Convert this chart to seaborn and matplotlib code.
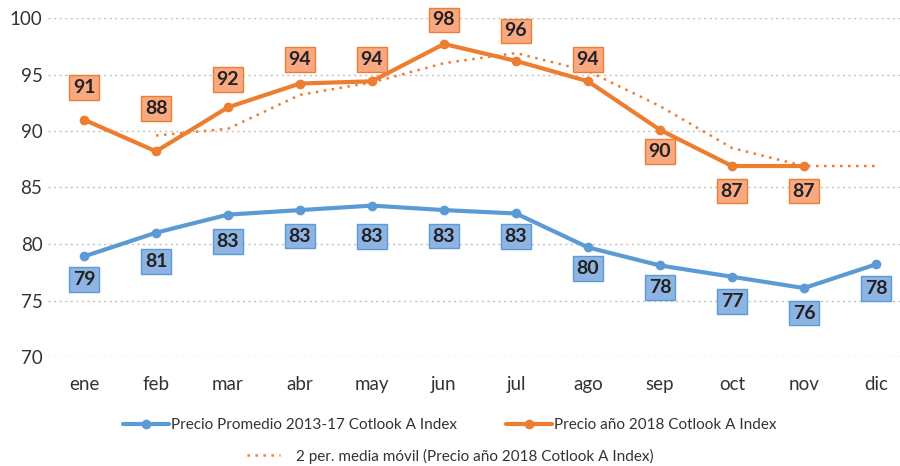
import numpy as np
import pandas as pd
import matplotlib
matplotlib.use("Agg")
import matplotlib.pyplot as plt
import seaborn as sns
from matplotlib.lines import Line2D

# ---- data ----
months = ["ene", "feb", "mar", "abr", "may", "jun", "jul", "ago", "sep", "oct", "nov", "dic"]
avg_2013_17 = [78.9, 81.0, 82.6, 83.0, 83.4, 83.0, 82.7, 79.7, 78.1, 77.1, 76.1, 78.2]
price_2018 = [91.0, 88.2, 92.1, 94.2, 94.4, 97.7, 96.2, 94.4, 90.1, 86.9, 86.9, np.nan]
moving_avg = [np.nan, 89.6, 90.2, 93.2, 94.3, 96.0, 96.9, 95.3, 92.2, 88.5, 86.9, 86.9]
yticks = [70, 75, 80, 85, 90, 95, 100]

name_blue = "Precio Promedio 2013-17 Cotlook A Index"
name_orange = "Precio año 2018 Cotlook A Index"
name_ma = "2 per. media móvil (Precio año 2018 Cotlook A Index)"

# ---- layout / style ----
BLUE = "#5B9BD5"
ORANGE = "#ED7D31"
BLUE_BOX = "#8EB4E3"
ORANGE_BOX = "#F8A982"
blue_label_dy_px = [23, 29, 27, 26, 31, 26, 23, 21, 22, 25, 25, 24]
orange_label_dy_px = [-32, -43, -28, -24, -22, -24, -30, -22, 22, 25, 25, 0]

sns.set_theme(style="white")
plt.rcParams['font.family'] = ['Lato', 'DejaVu Sans']

pos = list(range(len(months)))
df = pd.DataFrame({"pos": pos, "blue": avg_2013_17, "orange": price_2018, "ma": moving_avg})

fig = plt.figure(figsize=(9.0, 4.66), dpi=100)
ax = fig.add_axes([48/900, 1 - 357/466, 864/900, 339/466])

for y in yticks:
    ax.axhline(y, color="#BFBFBF", lw=1.0, ls=(0, (1.5, 2.5)), zorder=0)

sns.lineplot(data=df.dropna(subset=["ma"]), x="pos", y="ma", ax=ax, color=ORANGE,
             lw=1.8, ls=(0, (1, 2.2)), sort=False, zorder=2)
sns.lineplot(data=df, x="pos", y="blue", ax=ax, color=BLUE, lw=3, marker="o",
             markersize=7, markeredgewidth=0, sort=False, zorder=3)
sns.lineplot(data=df.dropna(subset=["orange"]), x="pos", y="orange", ax=ax, color=ORANGE,
             lw=3, marker="o", markersize=7, markeredgewidth=0, sort=False, zorder=3)

ax.set_ylim(70, 100)
ax.set_xlim(-0.5, 11.5)
ax.set_yticks(yticks)
ax.set_xticks(pos)
ax.set_xticklabels(months)

px2pt = 72 / 100
for i, v in enumerate(avg_2013_17):
    ax.annotate(f"{v:.0f}", (i, v), xytext=(0, -blue_label_dy_px[i] * px2pt),
                textcoords="offset points",
                ha="center", va="center", fontsize=14, fontweight="bold", color="#222222",
                bbox=dict(boxstyle="square,pad=0.2", fc=BLUE_BOX, ec=BLUE, lw=1),
                zorder=5, annotation_clip=False)
for i, v in enumerate(price_2018):
    if np.isnan(v):
        continue
    ax.annotate(f"{v:.0f}", (i, v), xytext=(0, -orange_label_dy_px[i] * px2pt),
                textcoords="offset points",
                ha="center", va="center", fontsize=14, fontweight="bold", color="#222222",
                bbox=dict(boxstyle="square,pad=0.2", fc=ORANGE_BOX, ec=ORANGE, lw=1),
                zorder=5, annotation_clip=False)

ax.set_xlabel("")
ax.set_ylabel("")
for s in ax.spines.values():
    s.set_visible(False)
ax.tick_params(axis="both", length=0, labelsize=13.5, colors="#333333")
ax.tick_params(axis="x", pad=14)
ax.tick_params(axis="y", pad=4)

h1 = Line2D([], [], color=BLUE, lw=3, marker="o", markersize=7, markeredgewidth=0)
h2 = Line2D([], [], color=ORANGE, lw=3, marker="o", markersize=7, markeredgewidth=0)
h3 = Line2D([], [], color=ORANGE, lw=1.8, ls=(0, (1, 2.2)))
leg1 = fig.legend([h1, h2], [name_blue, name_orange], loc="center", bbox_to_anchor=(0.5, 1 - 425/466),
                  ncol=2, frameon=False, fontsize=11, handlelength=3.0, columnspacing=3.2,
                  handletextpad=0.15)
for t in leg1.get_texts():
    t.set_color("#333333")
leg2 = fig.legend([h3], [name_ma], loc="center", bbox_to_anchor=(0.5, 1 - 456/466),
                  frameon=False, fontsize=11, handlelength=2.2, handletextpad=1.0)
for t in leg2.get_texts():
    t.set_color("#333333")

fig.savefig("out.png", dpi=100)
